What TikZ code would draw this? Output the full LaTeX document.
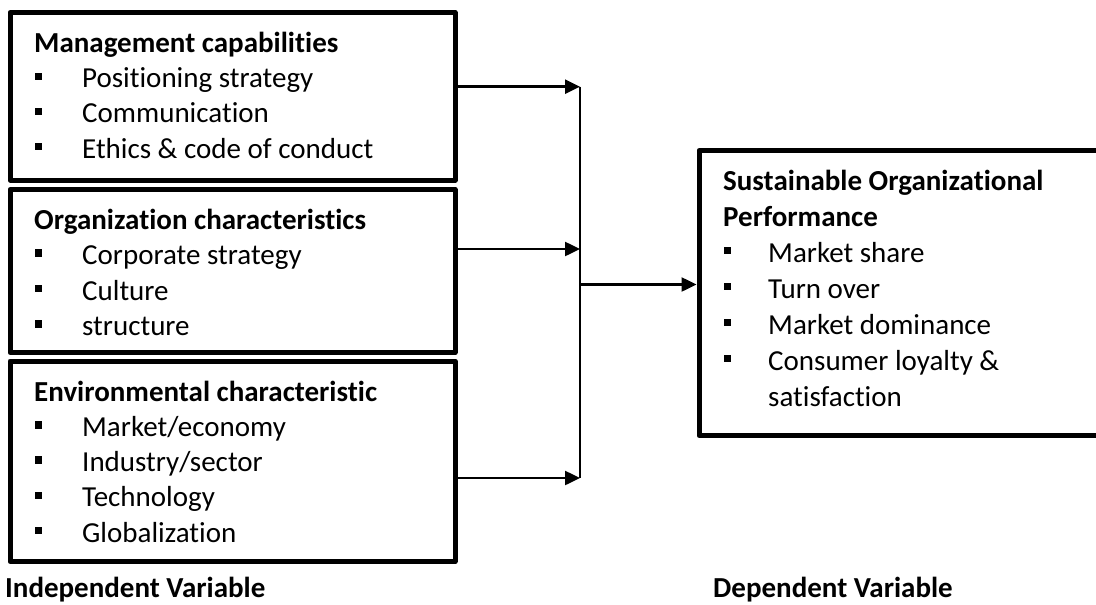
\documentclass[tikz,border=0pt]{standalone}
\usepackage{fontspec}
\setmainfont[Ligatures=NoCommon]{Carlito}
\usetikzlibrary{arrows.meta}
\tikzset{
  box/.style={draw, line width=5pt, line join=round, inner sep=0pt},
  txt/.style={anchor=base west, inner sep=0pt, font=\fontsize{29}{35}\selectfont},
  ttl/.style={anchor=base west, inner sep=0pt, font=\fontsize{29}{35}\selectfont\bfseries},
  bul/.style={fill=black, inner sep=0pt, minimum size=7.5pt},
  arr/.style={line width=2.5pt, -{Triangle[length=15pt,width=14pt]}},
  vline/.style={line width=2pt}
}
\begin{document}
\begin{tikzpicture}[x=1pt, y=-1pt]
\useasboundingbox (0,0) rectangle (1096,605);
\clip (0,0) rectangle (1096,605);
% boxes
\node[box, minimum width=445pt, minimum height=167.5pt] (b1) at (232.5,96.25) {};
\node[box, minimum width=445pt, minimum height=163pt] (b2) at (232.5,271) {};
\node[box, minimum width=445pt, minimum height=200.5pt] (b3) at (232.5,461.25) {};
\node[box, minimum width=403pt, minimum height=285.2pt] (rb) at (900.5,293.1) {};
% box 1
\node[ttl] (t1) at (34,52.7) {Management capabilities};
\node[bul] (p11) at (38.5,76.5) {};
\node[txt] (i11) at (82,87.8) {Positioning strategy};
\node[bul] (p12) at (38.5,111.6) {};
\node[txt] (i12) at (82,122.9) {Communication};
\node[bul] (p13) at (38.5,146.7) {};
\node[txt] (i13) at (82,158) {Ethics \& code of conduct};
% box 2
\node[ttl] (t2) at (34,229.3) {Organization characteristics};
\node[bul] (p21) at (38.5,253.2) {};
\node[txt] (i21) at (82,264.5) {Corporate strategy};
\node[bul] (p22) at (38.5,288.7) {};
\node[txt] (i22) at (82,300) {Culture};
\node[bul] (p23) at (38.5,324.2) {};
\node[txt] (i23) at (82,335.5) {structure};
% box 3
\node[ttl] (t3) at (34,401) {Environmental characteristic};
\node[bul] (p31) at (38.5,424.9) {};
\node[txt] (i31) at (82,436.2) {Market/economy};
\node[bul] (p32) at (38.5,460.2) {};
\node[txt] (i32) at (82,471.5) {Industry/sector};
\node[bul] (p33) at (38.5,495.5) {};
\node[txt] (i33) at (82,506.8) {Technology};
\node[bul] (p34) at (38.5,530.7) {};
\node[txt] (i34) at (82,542) {Globalization};
% right box
\node[ttl] (t4) at (723,190) {Sustainable Organizational};
\node[ttl] (t4b) at (723,226) {Performance};
\node[bul] (p41) at (727.5,250.7) {};
\node[txt] (i41) at (768,262) {Market share};
\node[bul] (p42) at (727.5,286.7) {};
\node[txt] (i42) at (768,298) {Turn over};
\node[bul] (p43) at (727.5,322.7) {};
\node[txt] (i43) at (768,334) {Market dominance};
\node[bul] (p44) at (727.5,358.7) {};
\node[txt] (i44) at (768,370) {Consumer loyalty \&};
\node[txt] (i45) at (768,406) {satisfaction};
% labels
\node[ttl] (l1) at (5,597) {Independent Variable};
\node[ttl] (l2) at (713,597) {Dependent Variable};
% connectors
\coordinate (v1) at (580,86.7);
\coordinate (v2) at (580,249);
\coordinate (v3) at (580,478);
\coordinate (m) at (580,284.5);
\draw[vline] (v1) -- (v3);
\draw[arr] (b1.east |- v1) -- (v1);
\draw[arr] (b2.east |- v2) -- (v2);
\draw[arr] (b3.east |- v3) -- (v3);
\draw[arr] (m) -- (m -| rb.west);
\end{tikzpicture}
\end{document}
